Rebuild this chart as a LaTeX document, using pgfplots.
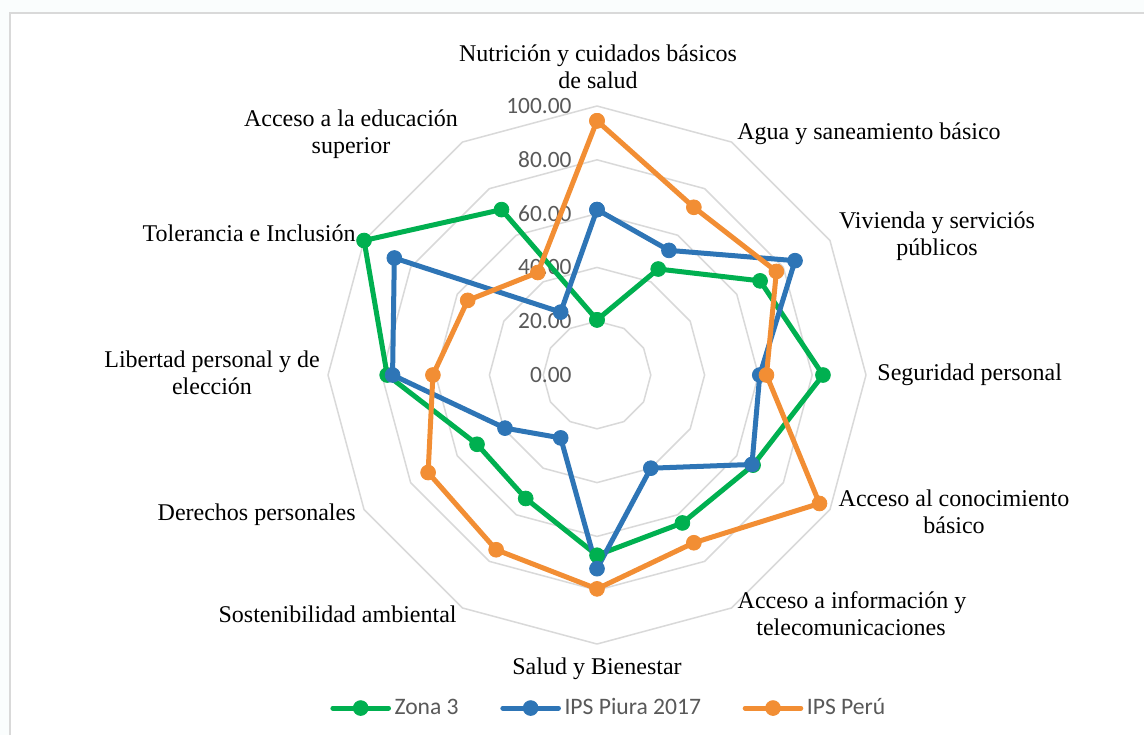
\documentclass[border=0pt]{standalone}
\usepackage{pgfplots}
\pgfplotsset{compat=1.18}
\usepackage{fontspec}
\setmainfont{Liberation Serif}
\newfontfamily\carlito{Carlito}
\definecolor{zgreen}{RGB}{0,176,80}
\definecolor{pblue}{RGB}{46,117,182}
\definecolor{porange}{RGB}{242,142,52}
\definecolor{gridgray}{RGB}{217,217,217}
\definecolor{ticktext}{RGB}{89,89,89}
\definecolor{outbg}{RGB}{250,253,253}
\begin{document}
\begin{tikzpicture}
\begin{scope}[x=0.5pt,y=-0.5pt]
\useasboundingbox (0,0) rectangle (1144,735);
\fill[outbg] (0,0) rectangle (1144,735);
\fill[white] (10,13) rectangle (1144,735);
\draw[gridgray, line width=0.9pt] (10,735) -- (10,13) -- (1144,13);
\end{scope}
\begin{axis}[
  at={(298.5pt,-187.5pt)}, anchor=origin,
  x=1.345pt, y=1.345pt,
  xmin=-100, xmax=100, ymin=-100, ymax=100,
  hide axis, clip=false,
  legend columns=3,
  legend style={draw=none, fill=none, at={(0.5235,-0.119)}, anchor=center,
    font=\carlito\fontsize{11.8}{14}\selectfont, text=ticktext,
    /tikz/every even column/.append style={column sep=19pt},
    nodes={inner sep=1.8pt}},
  legend image code/.code={\draw[mark repeat=2,mark phase=2] plot coordinates {(0pt,0pt) (13.9pt,0pt) (27.8pt,0pt)};},
]
% grid rings
\addplot[data cs=polar, gridgray, line width=0.75pt, line join=round, forget plot] coordinates {(90,20) (60,20) (30,20) (0,20) (-30,20) (-60,20) (-90,20) (-120,20) (-150,20) (-180,20) (-210,20) (-240,20) (-270,20)};
\addplot[data cs=polar, gridgray, line width=0.75pt, line join=round, forget plot] coordinates {(90,40) (60,40) (30,40) (0,40) (-30,40) (-60,40) (-90,40) (-120,40) (-150,40) (-180,40) (-210,40) (-240,40) (-270,40)};
\addplot[data cs=polar, gridgray, line width=0.75pt, line join=round, forget plot] coordinates {(90,60) (60,60) (30,60) (0,60) (-30,60) (-60,60) (-90,60) (-120,60) (-150,60) (-180,60) (-210,60) (-240,60) (-270,60)};
\addplot[data cs=polar, gridgray, line width=0.75pt, line join=round, forget plot] coordinates {(90,80) (60,80) (30,80) (0,80) (-30,80) (-60,80) (-90,80) (-120,80) (-150,80) (-180,80) (-210,80) (-240,80) (-270,80)};
\addplot[data cs=polar, gridgray, line width=0.75pt, line join=round, forget plot] coordinates {(90,100) (60,100) (30,100) (0,100) (-30,100) (-60,100) (-90,100) (-120,100) (-150,100) (-180,100) (-210,100) (-240,100) (-270,100)};
% tick labels
\foreach \v/\t in {0/0.00,20/20.00,40/40.00,60/60.00,80/80.00,100/100.00}{
  \edef\temp{\noexpand\node[anchor=east, inner sep=0pt, text=ticktext, font=\noexpand\carlito\noexpand\fontsize{11.7}{14}\noexpand\selectfont] at (axis cs:-9.3,\v) {\t};}
  \temp
}
% series
\addplot[data cs=polar, zgreen, line width=2.5pt, line join=round, line cap=round, mark=*, mark size=3.7pt, mark options={line width=0.4pt}]
 coordinates {(90,20.5) (60,45.5) (30,70) (0,84) (-30,67) (-60,63.5) (-90,67) (-120,53) (-150,51.5) (-180,78) (-210,100) (-240,71) (-270,20.5)};
\addplot[data cs=polar, pblue, line width=2.5pt, line join=round, line cap=round, mark=*, mark size=3.7pt, mark options={line width=0.4pt}]
 coordinates {(90,61.5) (60,53.5) (30,85) (0,60.5) (-30,66.5) (-60,40) (-90,72) (-120,27) (-150,39.5) (-180,76) (-210,87) (-240,27) (-270,61.5)};
\addplot[data cs=polar, porange, line width=2.5pt, line join=round, line cap=round, mark=*, mark size=3.7pt, mark options={line width=0.4pt}]
 coordinates {(90,94.5) (60,72) (30,77) (0,63) (-30,95.5) (-60,72) (-90,79.5) (-120,75) (-150,72.5) (-180,61) (-210,55.5) (-240,44) (-270,94.5)};
\legend{Zona 3, IPS Piura 2017, IPS Perú}
\end{axis}
\begin{scope}[x=0.5pt,y=-0.5pt, every node/.style={inner sep=0pt, font=\fontsize{12}{14}\selectfont}]
\node[anchor=base] at (598,61) {Nutrición y cuidados básicos};
\node[anchor=base] at (598,88) {de salud};
\node[anchor=base west] at (737,139) {Agua y saneamiento básico};
\node[anchor=base] at (937,228) {Vivienda y serviciós};
\node[anchor=base] at (937,255) {públicos};
\node[anchor=base west] at (877,380) {Seguridad personal};
\node[anchor=base] at (954,506) {Acceso al conocimiento};
\node[anchor=base] at (954,533) {básico};
\node[anchor=base] at (852,608) {Acceso a información y};
\node[anchor=base] at (851,635) {telecomunicaciones};
\node[anchor=base] at (597,674) {Salud y Bienestar};
\node[anchor=base east] at (457,622) {Sostenibilidad ambiental};
\node[anchor=base east] at (356,520) {Derechos personales};
\node[anchor=base] at (212,367) {Libertad personal y de};
\node[anchor=base] at (212,394) {elección};
\node[anchor=base east] at (356,241) {Tolerancia e Inclusión};
\node[anchor=base] at (351,126) {Acceso a la educación};
\node[anchor=base] at (351,153) {superior};
\end{scope}
\end{tikzpicture}
\end{document}
